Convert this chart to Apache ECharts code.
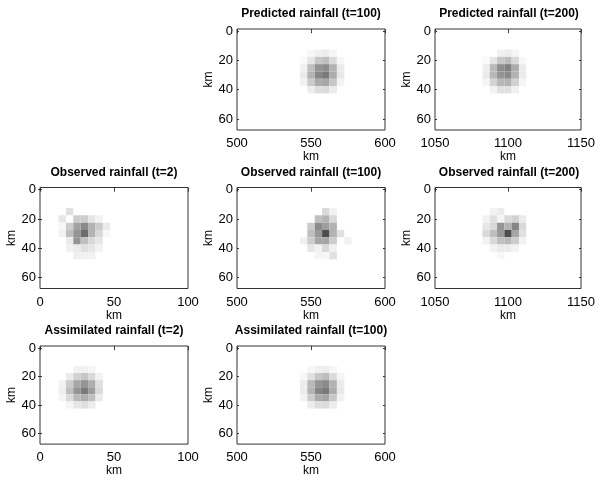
<!DOCTYPE html>
<html><head><meta charset="utf-8">
<script src="https://cdn.jsdelivr.net/npm/echarts@6/dist/echarts.min.js"></script>
<style>html,body{margin:0;padding:0;background:#fff}#c{width:598px;height:478px}</style>
</head><body><div id="c"></div>
<script>
// ---- data (cell centres in km, darkness 0..1) ----
const titles = ['Predicted rainfall (t=100)','Predicted rainfall (t=200)','Observed rainfall (t=2)','Observed rainfall (t=100)','Observed rainfall (t=200)','Assimilated rainfall (t=2)','Assimilated rainfall (t=100)'];
const xRange2 = [0, 100], xRange100 = [500, 600], xRange200 = [1050, 1150];
const xTicks2 = [0, 50, 100], xTicks100 = [500, 550, 600], xTicks200 = [1050, 1100, 1150];
const yRange = [-1.5, 67.5];
const yTicks = [0, 20, 40, 60];
const cellSize = 5;

const rows6 = [15, 20, 25, 30, 35, 40];
const rows7 = [15, 20, 25, 30, 35, 40, 45];

const predX100 = [545, 550, 555, 560, 565, 570];
const predicted100 = [
  [0,    0.03, 0.06, 0.07, 0.04, 0   ],
  [0.02, 0.10, 0.22, 0.25, 0.14, 0.03],
  [0.06, 0.25, 0.42, 0.45, 0.30, 0.08],
  [0.08, 0.30, 0.47, 0.52, 0.32, 0.09],
  [0.05, 0.20, 0.33, 0.35, 0.22, 0.05],
  [0,    0.07, 0.13, 0.14, 0.08, 0   ]
];
const predX200 = [1085, 1090, 1095, 1100, 1105, 1110];
const predicted200 = [
  [0,    0,    0.06, 0.07, 0.04, 0   ],
  [0.02, 0.10, 0.22, 0.26, 0.15, 0.03],
  [0.07, 0.27, 0.44, 0.50, 0.32, 0.08],
  [0.08, 0.28, 0.42, 0.45, 0.30, 0.08],
  [0.04, 0.17, 0.28, 0.30, 0.18, 0.04],
  [0,    0.05, 0.12, 0.12, 0.06, 0   ]
];
const obsX2 = [15, 20, 25, 30, 35, 40, 45];
const observed2 = [
  [0,    0.12, 0,    0,    0,    0,    0   ],
  [0.10, 0,    0.20, 0.20, 0.10, 0.05, 0   ],
  [0.03, 0.20, 0.36, 0.46, 0.30, 0.20, 0.08],
  [0.05, 0.25, 0.42, 0.58, 0.30, 0.15, 0.03],
  [0,    0.08, 0.42, 0.25, 0.15, 0.10, 0   ],
  [0,    0.06, 0.08, 0.12, 0.10, 0.05, 0   ],
  [0,    0,    0.06, 0.06, 0.05, 0,    0   ]
];
const obsX100 = [545, 550, 555, 560, 565, 570, 575];
const observed100 = [
  [0,    0,    0,    0.15, 0.05, 0,    0   ],
  [0,    0,    0.25, 0.30, 0.15, 0,    0   ],
  [0,    0.20, 0.45, 0.38, 0.30, 0,    0   ],
  [0,    0.25, 0.40, 0.70, 0.30, 0.12, 0   ],
  [0.06, 0.20, 0.35, 0.35, 0.20, 0,    0.05],
  [0,    0.10, 0.05, 0.15, 0.06, 0,    0   ],
  [0,    0,    0.04, 0.03, 0.12, 0,    0   ]
];
const obsX200 = [1085, 1090, 1095, 1100, 1105, 1110];
const observed200 = [
  [0,    0.05, 0.08, 0,    0,    0   ],
  [0.05, 0.12, 0.04, 0.15, 0.18, 0.08],
  [0.10, 0.15, 0.42, 0.30, 0.48, 0.15],
  [0.15, 0.25, 0.40, 0.70, 0.35, 0.12],
  [0.05, 0.15, 0.25, 0.28, 0.20, 0.05],
  [0,    0.05, 0.08, 0.08, 0.05, 0   ],
  [0,    0,    0.03, 0,    0,    0   ]
];
const assimX2 = [15, 20, 25, 30, 35, 40];
const assimilated2 = [
  [0,    0,    0.05, 0.06, 0.04, 0   ],
  [0,    0.08, 0.18, 0.22, 0.15, 0.05],
  [0.05, 0.20, 0.35, 0.42, 0.32, 0.12],
  [0.06, 0.25, 0.42, 0.52, 0.38, 0.14],
  [0.04, 0.15, 0.28, 0.32, 0.25, 0.08],
  [0,    0.04, 0.10, 0.12, 0.08, 0   ]
];
const assimX100 = [545, 550, 555, 560, 565, 570];
const assimilated100 = [
  [0,    0.03, 0.06, 0.07, 0.03, 0   ],
  [0.03, 0.12, 0.22, 0.26, 0.14, 0.04],
  [0.07, 0.28, 0.42, 0.46, 0.30, 0.08],
  [0.08, 0.30, 0.48, 0.53, 0.33, 0.09],
  [0.05, 0.20, 0.33, 0.36, 0.22, 0.05],
  [0,    0.07, 0.13, 0.14, 0.07, 0   ]
];

// ---- layout ----
const colLeft = [40, 237, 435];
const rowTop = [29, 187.5, 346];
const W = 148, H = 101;
const FONT = 'Liberation Sans, Arial, Helvetica, sans-serif';

const panels = [
  {col:1,row:0,xr:xRange100,xt:xTicks100,xs:predX100,ys:rows6,m:predicted100},
  {col:2,row:0,xr:xRange200,xt:xTicks200,xs:predX200,ys:rows6,m:predicted200},
  {col:0,row:1,xr:xRange2,xt:xTicks2,xs:obsX2,ys:rows7,m:observed2},
  {col:1,row:1,xr:xRange100,xt:xTicks100,xs:obsX100,ys:rows7,m:observed100},
  {col:2,row:1,xr:xRange200,xt:xTicks200,xs:obsX200,ys:rows7,m:observed200},
  {col:0,row:2,xr:xRange2,xt:xTicks2,xs:assimX2,ys:rows6,m:assimilated2},
  {col:1,row:2,xr:xRange100,xt:xTicks100,xs:assimX100,ys:rows6,m:assimilated100}
];

const fmt = function(v){ return String(v); };
const option = {animation:false, backgroundColor:'#fff', title:[], grid:[], xAxis:[], yAxis:[], series:[]};
const lineC = '#333';
panels.forEach(function(p, i){
  const left = colLeft[p.col], top = rowTop[p.row];
  option.title.push({text:titles[i], left:left + W/2, top:top - 21, padding:0, textAlign:'center',
    textStyle:{fontSize:12, fontWeight:'bold', color:'#000', fontFamily:FONT}});
  option.grid.push({left:left, top:top, width:W, height:H, show:true, borderColor:lineC, borderWidth:1, backgroundColor:'#fff'});
  // bottom x
  option.xAxis.push({type:'value', gridIndex:i, position:'bottom', min:p.xr[0], max:p.xr[1],
    axisLine:{show:false}, splitLine:{show:false},
    axisTick:{show:true, inside:true, length:2, lineStyle:{color:lineC}, customValues:p.xt},
    axisLabel:{customValues:p.xt, formatter:fmt, margin:7, fontSize:13, color:'#000', fontFamily:FONT},
    name:'km', nameLocation:'middle', nameGap:18, nameTextStyle:{fontSize:12, color:'#000', fontFamily:FONT}});
  // top x (ticks only)
  option.xAxis.push({type:'value', gridIndex:i, position:'top', min:p.xr[0], max:p.xr[1],
    axisLine:{show:false}, splitLine:{show:false},
    axisTick:{show:true, inside:true, length:2, lineStyle:{color:lineC}, customValues:p.xt},
    axisLabel:{show:false}});
  // left y
  option.yAxis.push({type:'value', gridIndex:i, position:'left', inverse:true, min:yRange[0], max:yRange[1],
    axisLine:{show:false}, splitLine:{show:false},
    axisTick:{show:true, inside:true, length:2, lineStyle:{color:lineC}, customValues:yTicks},
    axisLabel:{customValues:yTicks, formatter:fmt, margin:4, fontSize:13, color:'#000', fontFamily:FONT},
    name:'km', nameLocation:'middle', nameGap:20, nameRotate:90, nameTextStyle:{fontSize:12, color:'#000', fontFamily:FONT}});
  // right y (ticks only)
  option.yAxis.push({type:'value', gridIndex:i, position:'right', inverse:true, min:yRange[0], max:yRange[1],
    axisLine:{show:false}, splitLine:{show:false},
    axisTick:{show:true, inside:true, length:2, lineStyle:{color:lineC}, customValues:yTicks},
    axisLabel:{show:false}});
  const data = [];
  p.ys.forEach(function(y, r){
    p.xs.forEach(function(x, c){
      const v = p.m[r][c];
      if (v > 0) data.push([x, y, v]);
    });
  });
  option.series.push({type:'custom', coordinateSystem:'cartesian2d', xAxisIndex:2*i, yAxisIndex:2*i,
    data:data, clip:true, silent:true,
    renderItem:function(params, api){
      const x = api.value(0), y = api.value(1), v = api.value(2);
      const a = api.coord([x - cellSize/2, y - cellSize/2]);
      const b = api.coord([x + cellSize/2, y + cellSize/2]);
      const g = Math.round(255 * (1 - v));
      return {type:'rect', shape:{x:Math.min(a[0],b[0]), y:Math.min(a[1],b[1]), width:Math.abs(b[0]-a[0]), height:Math.abs(b[1]-a[1])},
        style:{fill:'rgb(' + g + ',' + g + ',' + g + ')'}};
    }});
});

const chart = echarts.init(document.getElementById('c'), null, {renderer:'canvas'});
chart.setOption(option);
</script>
</body></html>
